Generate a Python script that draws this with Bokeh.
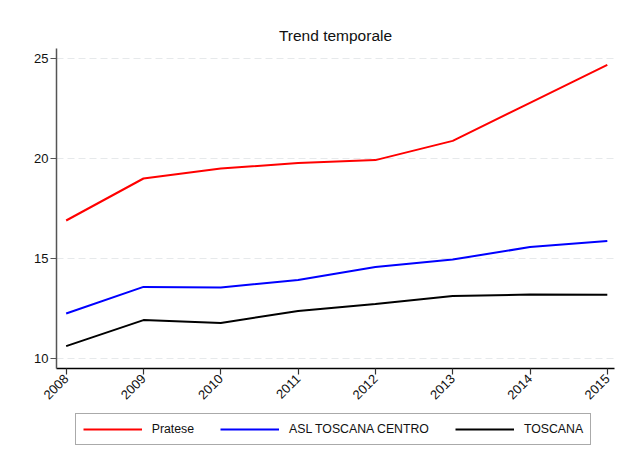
import math
from bokeh.plotting import figure
from bokeh.layouts import column
from bokeh.models import FixedTicker, Legend, LegendItem, Range1d
from bokeh.embed import file_html
from bokeh.resources import INLINE

# ---- data ----
years = [2008, 2009, 2010, 2011, 2012, 2013, 2014, 2015]
pratese = [16.9, 19.0, 19.5, 19.77, 19.92, 20.88, 22.78, 24.68]
asl_toscana_centro = [12.25, 13.58, 13.55, 13.93, 14.57, 14.95, 15.57, 15.87]
toscana = [10.62, 11.92, 11.77, 12.38, 12.72, 13.12, 13.2, 13.19]
y_ticks = [10, 15, 20, 25]
series_names = ["Pratese", "ASL TOSCANA CENTRO", "TOSCANA"]
title_text = "Trend temporale"

FONT = "Liberation Sans"
colors = ["#ff0000", "#0000ff", "#000000"]
series = [pratese, asl_toscana_centro, toscana]

p = figure(
    width=621, height=412,
    x_range=Range1d(2007.875, 2015.093),
    y_range=Range1d(9.5, 25.5),
    output_backend="svg", toolbar_location=None,
    min_border_left=56, min_border_right=7,
    min_border_top=48, min_border_bottom=44,
    title=title_text,
)
p.background_fill_color = "white"
p.border_fill_color = "white"
p.outline_line_color = None

p.title.align = "center"
p.title.text_font = FONT
p.title.text_font_size = "15.5px"
p.title.text_font_style = "normal"
p.title.text_color = "#111111"

for ax in (p.xaxis[0], p.yaxis[0]):
    ax.major_label_text_font = FONT
    ax.major_label_text_font_size = "13px"
    ax.major_label_text_color = "#111111"
    ax.major_tick_in = 0
    ax.major_tick_out = 6
    ax.minor_tick_line_color = None
    ax.axis_line_width = 1.5
    ax.major_tick_line_width = 1.2

p.yaxis.ticker = FixedTicker(ticks=y_ticks)
p.yaxis.axis_line_color = "#555555"
p.yaxis.major_tick_line_color = "#555555"
p.yaxis.major_label_standoff = 2

p.xaxis.ticker = FixedTicker(ticks=years)
p.xaxis.major_label_overrides = {y: str(y) for y in years}
p.xaxis.major_label_orientation = math.pi / 4
p.xaxis.axis_line_color = "black"
p.xaxis.major_tick_line_color = "#333333"
p.xaxis.major_label_standoff = 2

p.xgrid.grid_line_color = None
p.ygrid.ticker = FixedTicker(ticks=y_ticks)
p.ygrid.grid_line_color = "#e6e9eb"
p.ygrid.grid_line_dash = "7 4"
p.ygrid.grid_line_width = 1.2

for vals, col in zip(series, colors):
    p.line(years, vals, line_color=col, line_width=2)

# ---- legend strip (separate figure under the chart) ----
lg = figure(
    width=621, height=47,
    x_range=Range1d(2007.875, 2015.093), y_range=Range1d(0, 1),
    output_backend="svg", toolbar_location=None,
    x_axis_location=None, y_axis_location=None,
    min_border=0,
)
lg.xgrid.grid_line_color = None
lg.ygrid.grid_line_color = None
lg.outline_line_color = None
lg.background_fill_color = "white"
lg.border_fill_color = "white"

leg_renderers = []
for vals, col in zip(series, colors):
    r = lg.line(years, vals, line_color=col, line_width=2, visible=False)
    leg_renderers.append(r)

legend = Legend(
    items=[LegendItem(label=n, renderers=[r]) for n, r in zip(series_names, leg_renderers)],
    orientation="horizontal",
    location=(18.7, 14.5),
)
legend.label_text_font = FONT
legend.label_text_font_size = "12.3px"
legend.label_text_color = "#111111"
legend.glyph_width = 59
legend.glyph_height = 16
legend.label_height = 16
legend.label_standoff = 10
legend.spacing = 26
legend.padding = 7
legend.margin = 0
legend.border_line_color = "#555555"
legend.border_line_width = 1.5
legend.background_fill_color = "white"
legend.background_fill_alpha = 1
lg.add_layout(legend, "center")

layout = column(p, lg, spacing=0)
open("out.html", "w").write(file_html(layout, INLINE))
